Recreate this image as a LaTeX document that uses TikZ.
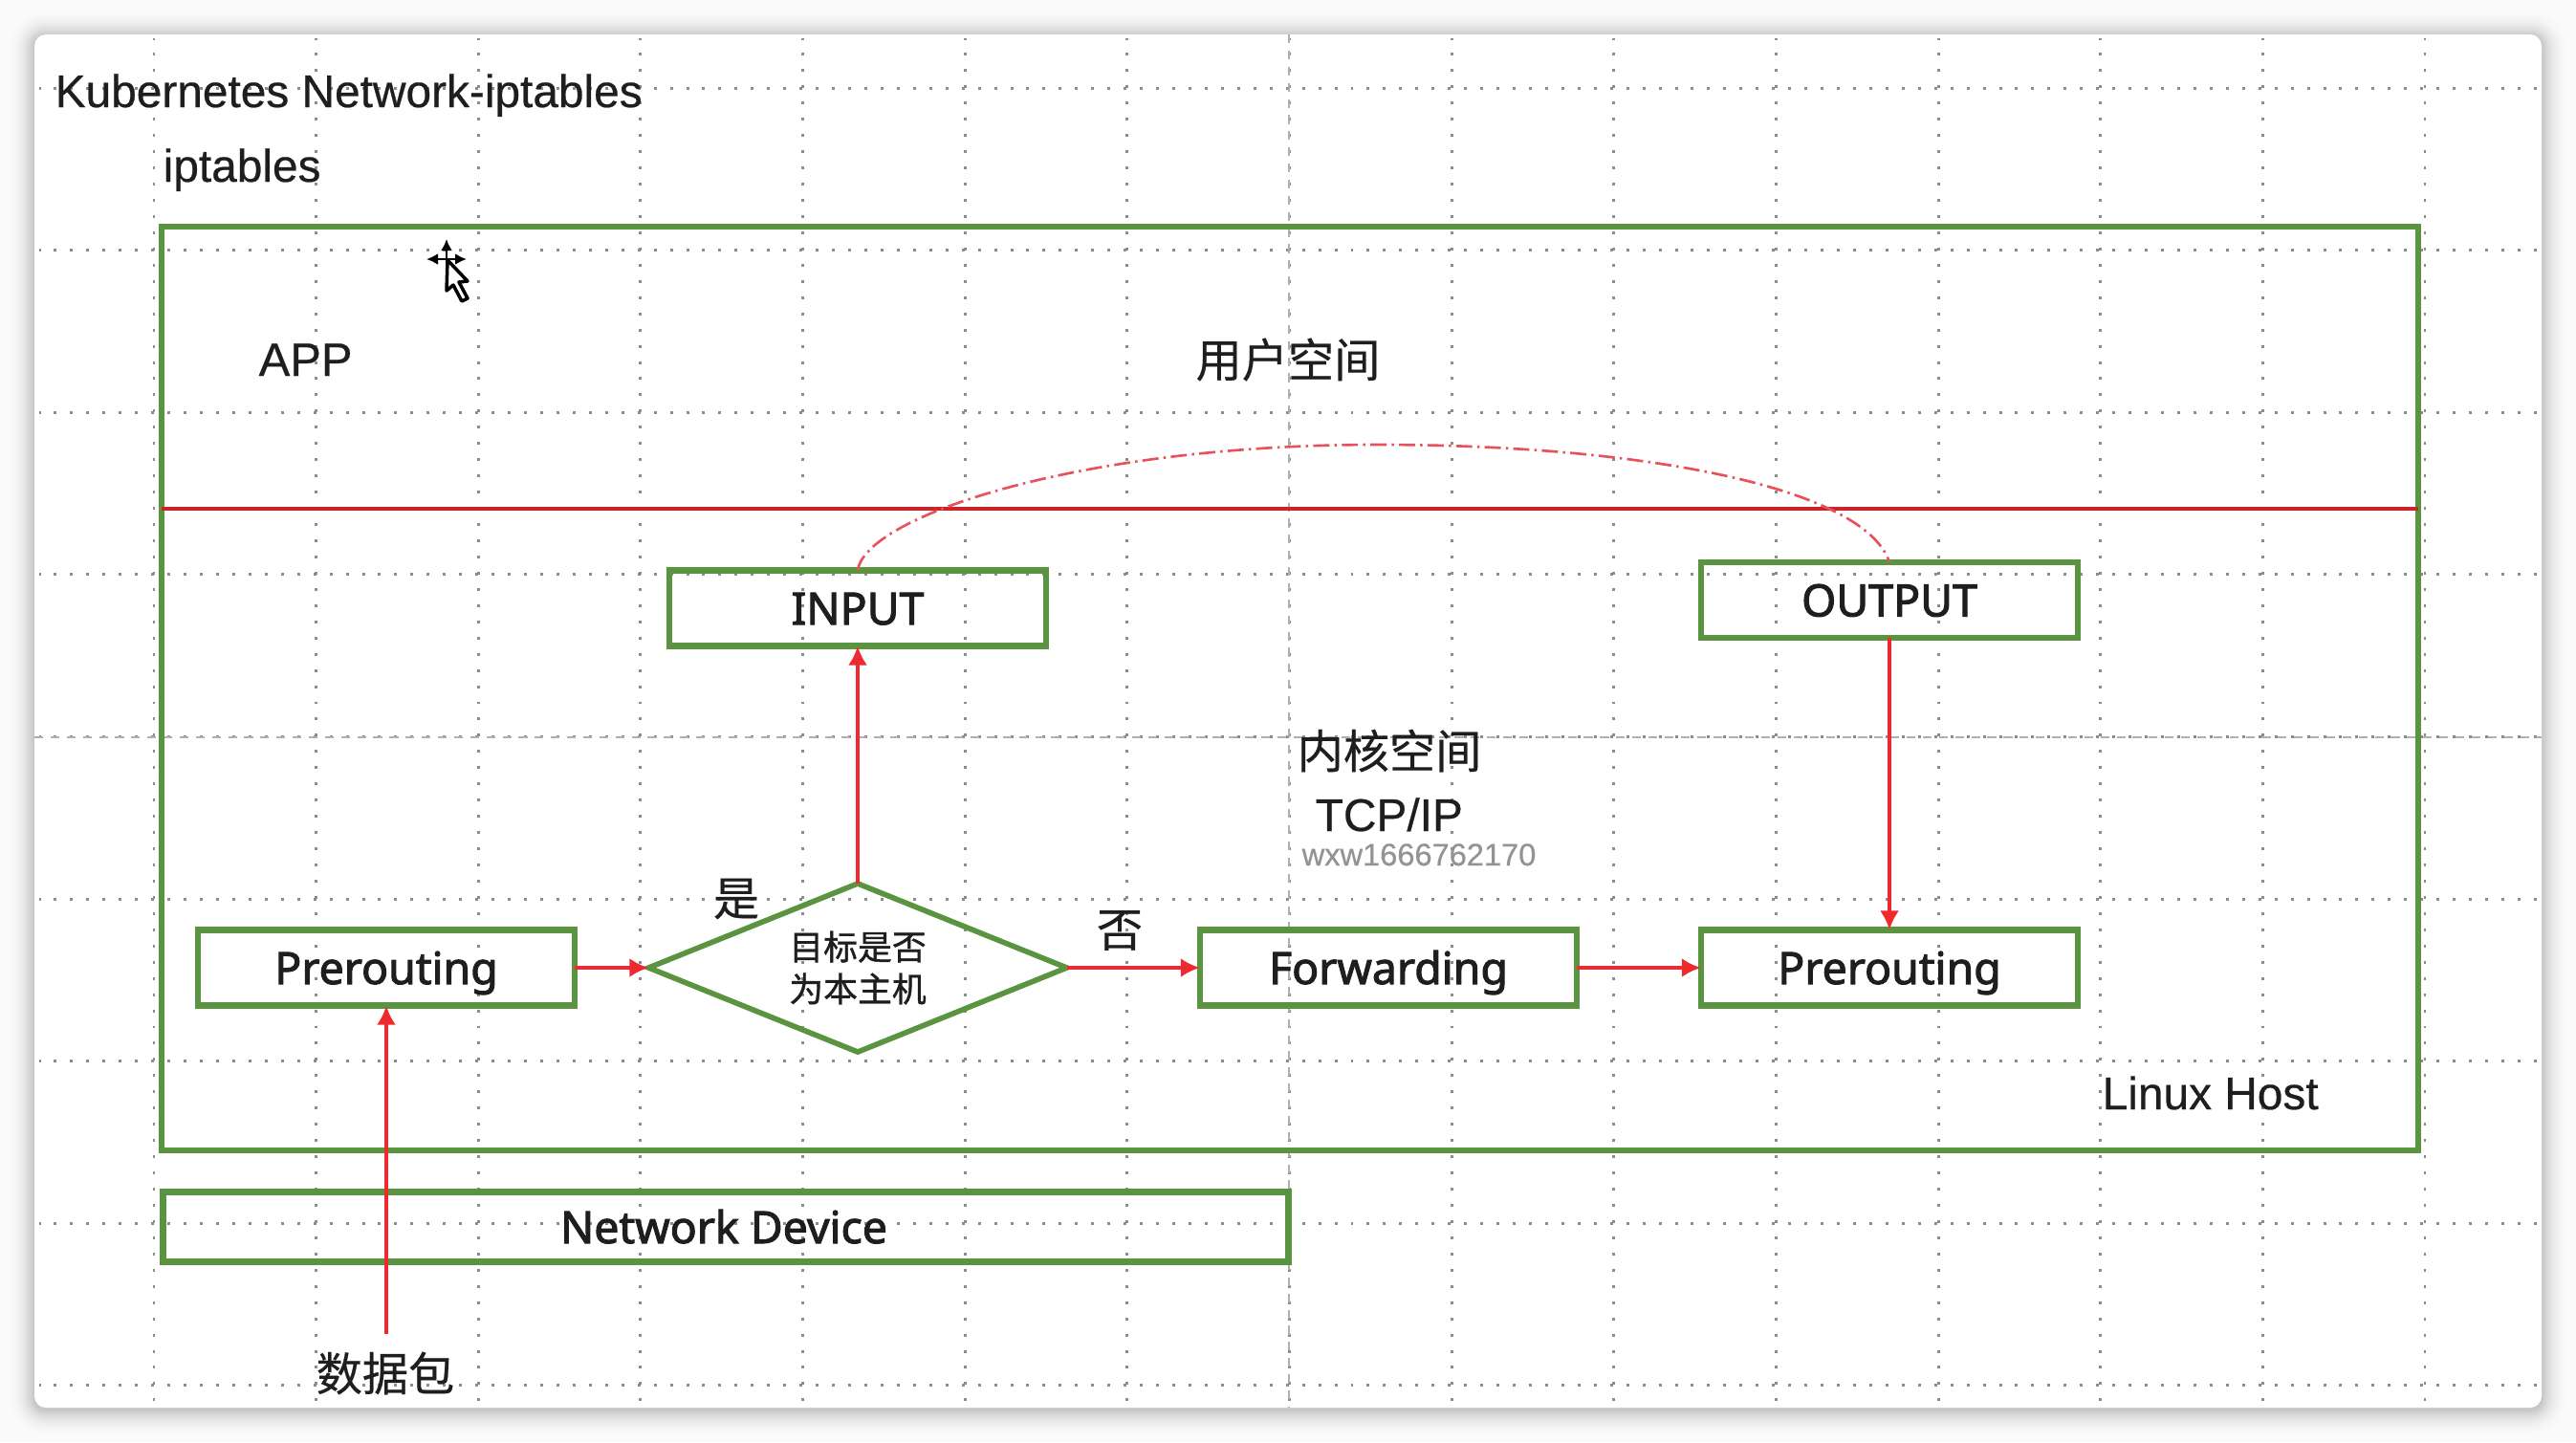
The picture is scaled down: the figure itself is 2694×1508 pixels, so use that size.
\documentclass[tikz,border=0pt]{standalone}
\usepackage{fontspec}
\setmainfont[RawFeature={embolden=0.5}]{Liberation Sans}
\newfontfamily\cjkfont[RawFeature={embolden=0.4}]{Noto Sans CJK SC}
\newfontfamily\boxfont[RawFeature={embolden=2.2}]{Noto Sans}
\newfontfamily\thickcjk[RawFeature={embolden=1.0}]{Noto Sans CJK SC}
\usetikzlibrary{arrows.meta,shapes.geometric}
\definecolor{pagebg}{HTML}{FAFAFA}
\definecolor{boxgreen}{HTML}{5B9440}
\definecolor{flowred}{HTML}{EE2A2E}
\definecolor{linered}{HTML}{C9242A}
\definecolor{curvered}{HTML}{E8505A}
\definecolor{griddot}{HTML}{8C8C8C}
\definecolor{gridaxis}{HTML}{B0B0B0}
\definecolor{inktext}{HTML}{1E1E1E}
\tikzset{
  boxnode/.style={draw=boxgreen,line width=1.85pt,inner sep=0pt,outer sep=0pt,minimum width=3.94cm,minimum height=.79cm,
    font=\boxfont\fontsize{13.2}{15}\selectfont,text=inktext,text height=.34cm,text depth=0cm},
  decision/.style={draw=boxgreen,line width=1.6pt,shape=diamond,shape aspect=2.48,inner sep=0pt,outer sep=0pt,
    minimum width=4.37cm,minimum height=1.76cm,align=center,
    font=\thickcjk\fontsize{10.2}{12.5}\selectfont,text=inktext},
  hostbox/.style={draw=boxgreen,line width=1.7pt,inner sep=0pt,outer sep=0pt},
  latinlabel/.style={anchor=base west,inner sep=0pt,font=\fontsize{13.6}{16}\selectfont,text=inktext},
  cjklabel/.style={inner sep=0pt,font=\cjkfont\fontsize{13.7}{16}\selectfont,text=inktext},
  flow/.style={draw=flowred,line width=1.15pt,-{Latex[length=.2cm,width=.2cm,fill=flowred]}},
  griddots/.style={griddot,line width=.85pt,dash pattern=on .85pt off 3.97pt,dash phase=.42pt},
  gridlong/.style={gridaxis,line width=.5pt,dash pattern=on 2.6pt off 2.2pt},
  cursorstem/.style={line width=.7pt,black,-{Latex[length=.12cm,width=.12cm]}}
}
\begin{document}
\begin{tikzpicture}[x=.01cm,y=-.01cm]
\useasboundingbox (0,0) rectangle (2694,1508);
\fill[pagebg] (0,0) rectangle (2694,1508);
% window shadow
\foreach \i in {28,...,1}{
  \pgfmathsetmacro{\p}{22*(1-\i/28)*(1-\i/28)}
  \pgfmathsetmacro{\r}{12+\i}
  \fill[black!\p!pagebg,rounded corners=\r*.01cm] (36-\i,36-\i+2) rectangle (2658+\i,1472+\i+2);
}
\fill[white,rounded corners=.12cm] (36,36) rectangle (2658,1472);
% grid
\foreach \k in {0,...,14}{
  \draw[griddots] ({161+\k*169.64},40) -- ({161+\k*169.64},1472);
}
\foreach \k in {0,...,8}{
  \draw[griddots] (41,{92+\k*169.6}) -- (2658,{92+\k*169.6});
}
\draw[gridlong] (1348,36) -- (1348,1472);
\draw[gridlong] (36,771) -- (2658,771);
% frames
\node[hostbox,minimum width=23.58cm,minimum height=9.66cm] (host) at (1349,720) {};
\coordinate (redL) at (host.west |- 0,532);
\coordinate (redR) at (host.east |- 0,532);
\draw[linered,line width=1.25pt] (redL) -- (redR);
\node[boxnode] (input) at (897,636) {INPUT};
\node[boxnode] (output) at (1976,627.5) {OUTPUT};
\node[boxnode] (pre1) at (404,1012) {Prerouting};
\node[boxnode] (fwd) at (1452,1012) {Forwarding};
\node[boxnode] (pre2) at (1976,1012) {Prerouting};
\node[decision] (dec) at (897,1012) {目标是否\\为本主机};
\node[boxnode,minimum width=11.76cm,minimum height=.73cm] (netdev) at (759,1283) {};
\node[font=\boxfont\fontsize{13.2}{15}\selectfont,text=inktext,inner sep=0pt,text height=.34cm,text depth=0cm] (netlabel) at (757,1283) {Network Device};
% labels
\node[latinlabel] (title) at (57,112) {Kubernetes Network-iptables};
\node[latinlabel] (ipt) at (170,190) {iptables};
\node[latinlabel,font=\fontsize{13.9}{16}\selectfont] (app) at (270,393) {APP};
\node[cjklabel] (user) at (1347,376) {用户空间};
\node[cjklabel] (kernel) at (1453,785) {内核空间};
\node[latinlabel] (tcp) at (1375,869) {TCP/IP};
\node[latinlabel,font=\fontsize{9.27}{11}\selectfont,text=gray!85] (wm) at (1361,905) {wxw1666762170};
\node[latinlabel] (linux) at (2198,1160) {Linux Host};
\node[cjklabel] (yes) at (770,940) {是};
\node[cjklabel] (no) at (1171,973) {否};
\node[cjklabel] (pkt) at (403,1436) {数据包};
\coordinate (pktstart) at (pre1.south |- 0,1395);
% connectors
\draw[flow] (pre1.east) -- (dec.west);
\draw[flow] (dec.north) -- (input.south);
\draw[flow] (dec.east) -- (fwd.west);
\draw[flow] (fwd.east) -- (pre2.west);
\draw[flow] (output.south) -- (pre2.north);
\draw[flow] (pktstart) -- (pre1.south);
\draw[curvered,line width=.75pt,dash pattern=on 4.8pt off 1.5pt on .7pt off 1.5pt]
  (input.north) .. controls (905,540) and (1130,465) .. (1440,465)
  .. controls (1720,465) and (1950,510) .. (output.north);
% mouse cursor
\draw[cursorstem] (467,271) -- (467,250);
\draw[cursorstem] (467,271) -- (446,271);
\draw[cursorstem] (467,271) -- (488,271);
\draw[fill=white,line width=1pt,line join=round] (468,272) -- (489,294) -- (480,295) -- (489,312) -- (483,315) -- (474,298) -- (467,304) -- cycle;
\end{tikzpicture}
\end{document}
